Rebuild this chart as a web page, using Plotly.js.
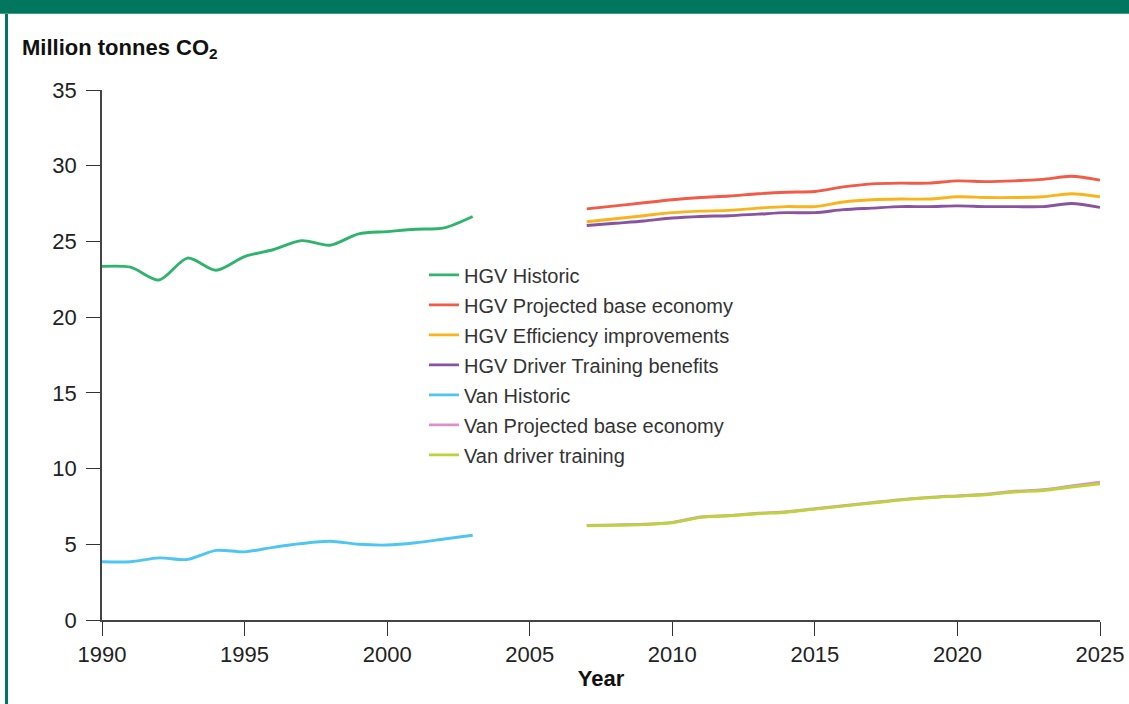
<!DOCTYPE html>
<html>
<head>
<meta charset="utf-8">
<script src="https://cdn.plot.ly/plotly-3.0.1.min.js"></script>
<style>
  html, body { margin: 0; padding: 0; background: #fff; }
  #wrap { position: relative; width: 1129px; height: 704px; overflow: hidden; }
  #chart { position: absolute; left: 0; top: 0; width: 1129px; height: 704px; }
  #topbar { position: absolute; left: 0; top: 0; width: 1129px; height: 13px; background: #00765f; border-bottom: 1px solid #3f9c86; z-index: 5; }
  #leftbar { position: absolute; left: 5px; top: 14px; width: 2.5px; height: 690px; background: #00765f; z-index: 5; }
</style>
</head>
<body>
<div id="wrap">
  <div id="chart"></div>
  <div id="topbar"></div>
  <div id="leftbar"></div>
</div>
<script>
// Historic years
const histYears = [1990,1991,1992,1993,1994,1995,1996,1997,1998,1999,2000,2001,2002,2003];
// Projection years
const projYears = [2007,2008,2009,2010,2011,2012,2013,2014,2015,2016,2017,2018,2019,2020,2021,2022,2023,2024,2025];

const hgvHistoric = [23.35,23.3,22.45,23.9,23.1,24.0,24.45,25.05,24.75,25.5,25.65,25.8,25.9,26.65];
const hgvProjectedBase = [27.15,27.35,27.55,27.75,27.9,28.0,28.15,28.25,28.3,28.6,28.8,28.85,28.85,29.0,28.95,29.0,29.1,29.3,29.05];
const hgvEfficiency = [26.3,26.5,26.7,26.9,27.0,27.05,27.2,27.3,27.3,27.6,27.75,27.8,27.8,27.95,27.9,27.9,27.95,28.15,27.95];
const hgvDriverTraining = [26.05,26.2,26.35,26.55,26.65,26.7,26.8,26.9,26.9,27.1,27.2,27.3,27.3,27.35,27.3,27.3,27.3,27.5,27.25];
const vanHistoric = [3.85,3.85,4.1,4.0,4.6,4.5,4.8,5.05,5.2,5.0,4.95,5.1,5.35,5.6];
const vanProjectedBase = [6.25,6.28,6.32,6.45,6.8,6.9,7.05,7.15,7.35,7.55,7.75,7.95,8.1,8.2,8.3,8.5,8.6,8.85,9.1];
const vanDriverTraining = [6.22,6.25,6.3,6.42,6.78,6.88,7.02,7.12,7.32,7.52,7.72,7.92,8.07,8.17,8.27,8.45,8.55,8.78,9.0];

const xTickVals = [1990,1995,2000,2005,2010,2015,2020,2025];
const yTickVals = [0,5,10,15,20,25,30,35];

const seriesNames = ["HGV Historic","HGV Projected base economy","HGV Efficiency improvements","HGV Driver Training benefits","Van Historic","Van Projected base economy","Van driver training"];
const seriesColors = ["#2fb36d","#f15b48","#fbb31b","#8953a0","#4ec6f1","#dc8fcb","#bdd33b"];

const seriesX = [histYears, projYears, projYears, projYears, histYears, projYears, projYears];
const seriesY = [hgvHistoric, hgvProjectedBase, hgvEfficiency, hgvDriverTraining, vanHistoric, vanProjectedBase, vanDriverTraining];

const traces = seriesNames.map((n, i) => ({
  type: 'scatter',
  mode: 'lines',
  name: n,
  x: seriesX[i],
  y: seriesY[i],
  legendgroup: 'g' + i,
  line: { color: seriesColors[i], width: 2.9, shape: 'spline', smoothing: 0.8 },
  hoverinfo: 'x+y+name'
}));

const FONT = "'Liberation Sans', Arial, Helvetica, sans-serif";

const layout = {
  width: 1129,
  height: 704,
  margin: { l: 102, r: 29, t: 90, b: 84, pad: 0 },
  paper_bgcolor: '#ffffff',
  plot_bgcolor: '#ffffff',
  font: { family: FONT, color: '#222', size: 22 },
  showlegend: true,
  title: {
    text: '<b>Million tonnes CO<sub>2</sub></b>',
    font: { family: FONT, size: 22, color: '#111' },
    x: 22 / 1129,
    xanchor: 'left',
    xref: 'container',
    yref: 'container',
    y: 1 - 47 / 704,
    yanchor: 'middle'
  },
  legend: {
    x: 0.3226,
    xanchor: 'left',
    y: 0.688,
    yanchor: 'top',
    bgcolor: 'rgba(0,0,0,0)',
    borderwidth: 0,
    font: { family: FONT, size: 20, color: '#333' },
    traceorder: 'grouped',
    tracegroupgap: 1,
    itemwidth: 30
  },
  xaxis: {
    range: [1990, 2025],
    tickvals: xTickVals,
    ticktext: xTickVals.map(String),
    ticks: 'outside',
    ticklen: 14,
    tickwidth: 1.4,
    tickcolor: '#333',
    showline: true,
    linecolor: '#444',
    linewidth: 1.8,
    showgrid: false,
    zeroline: false,
    tickfont: { family: FONT, size: 22, color: '#222' },
    title: { text: '<b>Year</b>', font: { family: FONT, size: 22, color: '#111' }, standoff: 4 },
    fixedrange: true
  },
  yaxis: {
    range: [0, 35],
    tickvals: yTickVals,
    ticktext: yTickVals.map(String),
    ticks: 'outside',
    ticklen: 14,
    tickwidth: 1.4,
    tickcolor: '#333',
    showline: true,
    linecolor: '#444',
    linewidth: 1.6,
    showgrid: false,
    zeroline: false,
    ticklabelstandoff: 5,
    tickfont: { family: FONT, size: 22, color: '#222' },
    fixedrange: true
  }
};

Plotly.newPlot('chart', traces, layout, { displayModeBar: false, staticPlot: false });
</script>
</body>
</html>
